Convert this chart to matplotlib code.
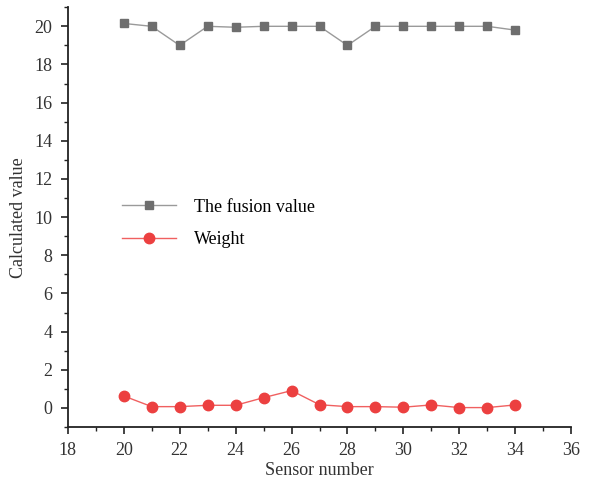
import matplotlib
matplotlib.use('Agg')
import matplotlib.pyplot as plt
from matplotlib.ticker import MultipleLocator

# sensor data
sensors = [20, 21, 22, 23, 24, 25, 26, 27, 28, 29, 30, 31, 32, 33, 34]
fusion_value = [20.15, 20.0, 19.0, 20.0, 19.95, 20.0, 20.0, 20.0, 19.0, 20.0, 20.0, 20.0, 20.0, 20.0, 19.8]
weight = [0.63, 0.07, 0.07, 0.14, 0.14, 0.54, 0.91, 0.17, 0.07, 0.07, 0.04, 0.16, 0.02, 0.02, 0.16]

plt.rcParams['font.family'] = ['Liberation Serif', 'DejaVu Serif']
plt.rcParams['font.size'] = 13

fig = plt.figure(figsize=(6, 4.82), dpi=100)
ax = fig.add_axes([0.113, 0.114, 0.839, 0.871])

ax.plot(sensors, fusion_value, color='#9a9a9a', linewidth=1, marker='s',
        markersize=6.3, markerfacecolor='#6e6e6e', markeredgecolor='#6e6e6e',
        label='The fusion value')
ax.plot(sensors, weight, color='#f06060', linewidth=1, marker='o',
        markersize=7.5, markerfacecolor='#ec4040', markeredgecolor='#ec4040',
        label='Weight')

ax.set_xlim(18, 36)
ax.set_ylim(-1, 21)
ax.xaxis.set_major_locator(MultipleLocator(2))
ax.xaxis.set_minor_locator(MultipleLocator(1))
ax.yaxis.set_major_locator(MultipleLocator(2))
ax.yaxis.set_minor_locator(MultipleLocator(1))
ax.tick_params(which='major', direction='out', length=5, width=1.2, pad=6,
               colors='#222222', labelcolor='#333333')
ax.tick_params(which='minor', direction='out', length=3, width=1.0, colors='#222222')
ax.spines['top'].set_visible(False)
ax.spines['right'].set_visible(False)
for s in ('left', 'bottom'):
    ax.spines[s].set_linewidth(1.3)
    ax.spines[s].set_color('#222222')

ax.set_xlabel('Sensor number', color='#333333', labelpad=2)
ax.set_ylabel('Calculated value', color='#333333', labelpad=5)

ax.legend(loc='center left', bbox_to_anchor=(0.075, 0.485), frameon=False,
          handlelength=3.0, handletextpad=1.0, labelspacing=0.85, fontsize=13)

fig.savefig('out.png', dpi=100)
